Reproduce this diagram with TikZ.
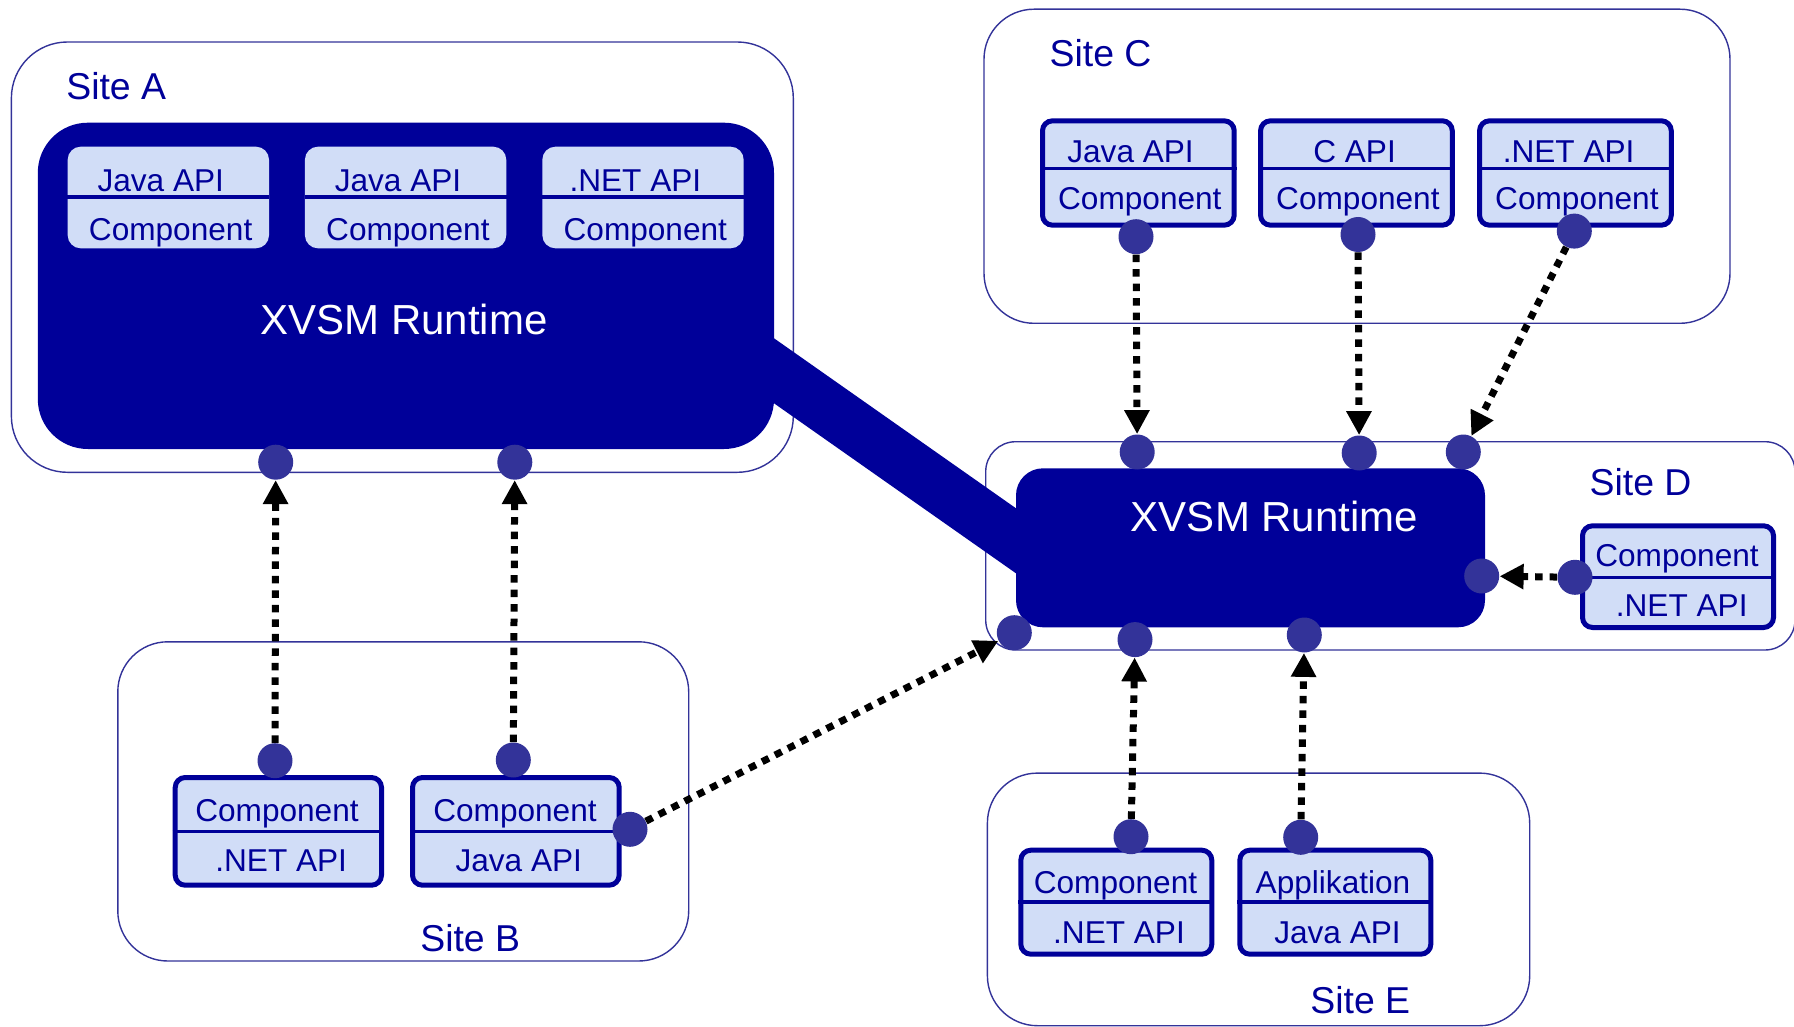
\documentclass[tikz,border=0pt]{standalone}
\usepackage{fontspec}
\setmainfont{Liberation Sans}
\usetikzlibrary{arrows.meta}
\definecolor{rtblue}{HTML}{000099}
\definecolor{dotblue}{HTML}{333399}
\definecolor{compfill}{HTML}{D1DDF7}
\definecolor{siteline}{HTML}{333399}

\begin{document}
\begin{tikzpicture}[x=0.5pt,y=-0.5pt,
  site/.style={draw=siteline, line width=0.7pt, rounded corners=#1, inner sep=0, fill=white},
  runtime/.style={fill=rtblue, rounded corners=#1, inner sep=0},
  inner/.style={fill=compfill, rounded corners=6.5pt, inner sep=0},
  comp/.style={draw=rtblue, line width=2.5pt, fill=compfill, rounded corners=5pt, inner sep=0},
  divider/.style={draw=rtblue, line width=1.75pt},
  sitelabel/.style={text=rtblue, font=\fontsize{18.7}{21}\selectfont, anchor=base, inner sep=0},
  comptext/.style={text=rtblue, font=\fontsize{15.8}{17}\selectfont, anchor=base, inner sep=0},
  rttext/.style={text=white, font=\fontsize{21}{24}\selectfont, anchor=base, inner sep=0},
  port/.style={circle, fill=dotblue, minimum size=17.5pt, inner sep=0},
  link/.style={draw=black, line width=3.5pt, dash pattern=on 3.75pt off 3.5pt,
    -{Triangle[length=12pt,width=12pt]}},
  band/.style={draw=rtblue, line width=26.6pt}
]
\useasboundingbox (0,0) rectangle (1794,1027);

% sites
\node[site=28pt, minimum width=390.95pt, minimum height=215.15pt] (siteA) at (402.35,257.15) {};
\node[site=25pt, minimum width=373pt, minimum height=157.05pt] (siteC) at (1357,166.25) {};
\node[site=15pt, minimum width=404.65pt, minimum height=104.15pt] (siteD) at (1390.35,545.85) {};
\node[site=25pt, minimum width=285.45pt, minimum height=159.6pt] (siteB) at (403.25,801.4) {};
\node[site=25pt, minimum width=271.15pt, minimum height=126.3pt] (siteE) at (1258.55,899.4) {};

\node[sitelabel] (labA) at (116.2,100) {Site A};
\node[sitelabel] (labC) at (1100.6,66.8) {Site C};
\node[sitelabel] (labD) at (1640.6,495.9) {Site D};
\node[sitelabel] (labB) at (470.2,951.2) {Site B};
\node[sitelabel] (labE) at (1360.3,1013) {Site E};

% link between the two runtimes
\coordinate (bandA) at (740,346.9);
\coordinate (bandD) at (1050,564.7);
\draw[band] (bandA) -- (bandD);

% runtimes
\node[runtime=25pt, minimum width=368.1pt, minimum height=163.15pt] (rtA) at (405.9,285.85) {};
\node[rttext] (rtAt) at (403.9,335) {XVSM Runtime};
\node[runtime=13.5pt, minimum width=234.5pt, minimum height=79.5pt] (rtD) at (1250.5,547.8) {};
\node[rttext] (rtDt) at (1274.5,531.7) {XVSM Runtime};

% components inside runtime A
\foreach \n/\cx/\top in {a1/168.35/Java API, a2/405.6/Java API, a3/643/.NET API}{
  \node[inner, minimum width=100.65pt, minimum height=50.8pt] (\n) at (\cx,197.5) {};
  \draw[draw=rtblue, line width=2pt] (\n.west) -- (\n.east);
  \node[comptext] (\n t) at (\cx-7.6,191.7) {\top};
  \node[comptext] (\n b) at (\cx+2.3,240.7) {Component};
}

% components of site C
\foreach \n/\cx/\top/\dx in {c1/1138.35/Java API/-7.8, c2/1356.4/C API/-1.8, c3/1575.4/.NET API/-6.8}{
  \node[comp, minimum width=95.85pt, minimum height=52.2pt] (\n) at (\cx,173) {};
  \draw[divider] (\n.west |- 0,168.3) -- (\n.east |- 0,168.3);
  \node[comptext] (\n t) at (\cx+\dx,162.7) {\top};
  \node[comptext] (\n b) at (\cx+1.5,210) {Component};
}

% component of site D
\node[comp, minimum width=95.5pt, minimum height=50.85pt] (dc) at (1678,576.65) {};
\draw[divider] (dc.west |- 0,577.3) -- (dc.east |- 0,577.3);
\node[comptext] (dct) at (1677,566.7) {Component};
\node[comptext] (dcb) at (1681.7,616) {.NET API};

% components of site B
\node[comp, minimum width=103.15pt, minimum height=53.85pt] (b1) at (278.35,831.35) {};
\draw[divider] (b1.west) -- (b1.east);
\node[comptext] (b1t) at (277,821.7) {Component};
\node[comptext] (b1b) at (281.2,871.7) {.NET API};
\node[comp, minimum width=103.35pt, minimum height=53.85pt] (b2) at (515.85,831.35) {};
\draw[divider] (b2.west) -- (b2.east);
\node[comptext] (b2t) at (515,821.7) {Component};
\node[comptext] (b2b) at (518.8,871.7) {Java API};

% components of site E
\node[comp, minimum width=95.5pt, minimum height=52pt] (e1) at (1116.3,902.2) {};
\draw[divider] (e1.west) -- (e1.east);
\node[comptext] (e1t) at (1115.5,893.3) {Component};
\node[comptext] (e1b) at (1119,943.3) {.NET API};
\node[comp, minimum width=95.5pt, minimum height=52pt] (e2) at (1335.3,902.2) {};
\draw[divider] (e2.west) -- (e2.east);
\node[comptext] (e2t) at (1333,893.3) {Applikation};
\node[comptext] (e2b) at (1337.5,943.3) {Java API};

% ports
\node[port] (pA1) at (275.7,462.2) {};
\node[port] (pA2) at (514.8,462.2) {};
\node[port] (pB1) at (275,760.7) {};
\node[port] (pB2) at (513.3,760) {};
\node[port] (pB3) at (630,829.3) {};
\node[port] (pC1) at (1136,236.7) {};
\node[port] (pC2) at (1358,234.5) {};
\node[port] (pC3) at (1574.3,231.1) {};
\node[port] (pD1) at (1137.2,452) {};
\node[port] (pD2) at (1359.2,453) {};
\node[port] (pD3) at (1463.3,452) {};
\node[port] (pDL) at (1014.3,632.7) {};
\node[port] (pDB1) at (1135,639.6) {};
\node[port] (pDB2) at (1304.3,635) {};
\node[port] (pDR) at (1481.7,576) {};
\node[port] (pDC) at (1575,577.3) {};
\node[port] (pE1) at (1131,836.7) {};
\node[port] (pE2) at (1300.7,837.3) {};

% connections
\draw[link] (pB1) -- (pA1);
\draw[link] (pB2) -- (pA2);
\draw[link] (pB3) -- (pDL);
\draw[link] (pC1) -- (pD1);
\draw[link] (pC2) -- (pD2);
\draw[link] (pC3) -- (pD3);
\draw[link] (pDC) -- (pDR);
\draw[link] (pE1) -- (pDB1);
\draw[link] (pE2) -- (pDB2);
\end{tikzpicture}
\end{document}
